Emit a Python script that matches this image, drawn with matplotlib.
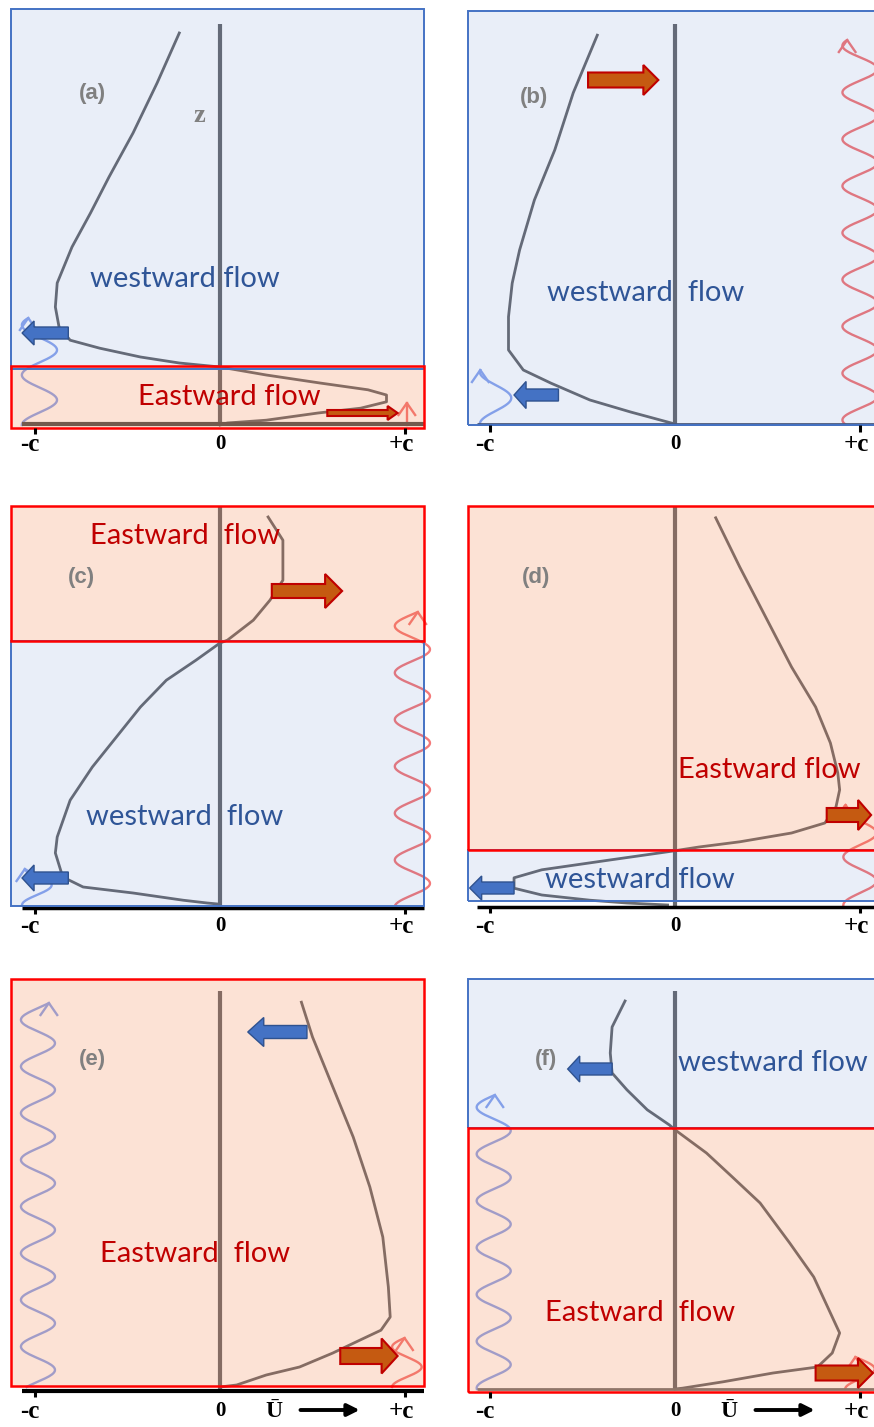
import numpy as np
import matplotlib
matplotlib.use("Agg")
import matplotlib.pyplot as plt
from matplotlib.patches import FancyArrow, Rectangle

# ---------------- data (u in units of c, z = height units) ----------------
a_u = [-0.22, -0.34, -0.47, -0.60, -0.70, -0.80, -0.88, -0.89, -0.87, -0.81, -0.65, -0.43,
       -0.22, 0.0, 0.25, 0.54, 0.80, 0.90, 0.90, 0.76, 0.53, 0.25, 0.04, 0.0]
a_z = [98, 85.5, 73, 62, 53, 44.5, 35.5, 29.5, 24.5, 21.2, 19.2, 17,
       15.5, 14.5, 12.5, 10.5, 8.8, 7.5, 5.8, 4.2, 3, 1.2, 0.5, 0]

b_u = [-0.42, -0.55, -0.65, -0.76, -0.84, -0.88, -0.90, -0.90, -0.82, -0.67, -0.46, -0.24, -0.04, 0.0]
b_z = [97.2, 82.8, 68.5, 56, 43.5, 35.2, 26.8, 18.5, 13.5, 10.2, 6, 3, 0.5, 0]

c_u = [0.26, 0.34, 0.34, 0.27, 0.18, 0.04, 0.0, -0.13, -0.29, -0.43, -0.56, -0.69, -0.81,
       -0.88, -0.89, -0.85, -0.74, -0.47, -0.20, -0.07, 0.0]
c_z = [97, 91.2, 81.2, 76.2, 71.2, 66.2, 65.5, 61.2, 56.2, 49.5, 42, 34.5, 26.2,
       17, 13, 7, 4.5, 3, 1.2, 0.5, 0.2]

d_u = [0.22, 0.35, 0.49, 0.63, 0.76, 0.84, 0.88, 0.89, 0.87, 0.81, 0.63, 0.35, 0.13, -0.01,
       -0.36, -0.72, -0.87, -0.87, -0.72, -0.46, -0.26, -0.04]
d_z = [96.8, 84.5, 72, 59.5, 49.5, 40.5, 33, 28.8, 24.5, 20.5, 18, 15.8, 14.5, 13.5,
       11.2, 8.8, 6.8, 4.2, 2.5, 1.2, 0.5, 0]

e_u = [0.44, 0.50, 0.61, 0.72, 0.81, 0.88, 0.91, 0.92, 0.87, 0.76, 0.61, 0.43, 0.25, 0.09, 0.0]
e_z = [96.2, 87.5, 75, 62.5, 50, 37.5, 25, 17.5, 14.2, 11.8, 8.5, 5, 3, 0.5, 0]

f_u = [-0.27, -0.34, -0.35, -0.34, -0.26, -0.15, -0.03, 0.0, 0.17, 0.31, 0.46, 0.62, 0.75,
       0.85, 0.89, 0.85, 0.77, 0.53, 0.26, 0.04, 0.0]
f_z = [97, 90.5, 84, 79, 74.8, 69.8, 66, 64.8, 59, 53, 46.5, 36.5, 28,
       18, 14, 9, 5.5, 4, 1.8, 0.2, 0]

# flow regions: (z_bottom, z_top, kind)  W = westward, E = eastward
a_regions = [(14, 104, 'W'), (-0.75, 14.75, 'E')]
b_regions = [(-0.25, 103.25, 'W')]
c_regions = [(-0.25, 66, 'W'), (66, 99.75, 'E')]
d_regions = [(1.0, 13.75, 'W'), (13.75, 99.75, 'E')]
e_regions = [(0.25, 102, 'E')]
f_regions = [(65.25, 102.5, 'W'), (-0.75, 65.25, 'E')]

# wave-drag arrows: (u_start, u_end, z, kind)
a_arrows = [(-0.82, -1.07, 23, 'W'), (0.58, 0.96, 3, 'E')]
b_arrows = [(-0.47, -0.09, 86, 'E'), (-0.63, -0.87, 7.25, 'W')]
c_arrows = [(0.28, 0.66, 78.5, 'E'), (-0.82, -1.07, 6.75, 'W')]
d_arrows = [(0.82, 1.06, 22.5, 'E'), (-0.87, -1.11, 4.25, 'W')]
e_arrows = [(0.47, 0.15, 88.75, 'W'), (0.65, 0.96, 7.75, 'E')]
f_arrows = [(-0.34, -0.58, 80, 'W'), (0.76, 1.07, 4, 'E')]

# propagating waves: (phase speed u, amplitude, wavelength, z of left crest, z_end, kind)
a_waves = [(-0.976, 0.095, 12.5, 0, 26.75, 'W'), (1.01, 0.0, 10, 0, 5.5, 'E')]
b_waves = [(-0.97, 0.085, 13, 0, 13.5, 'W'), (1.0, 0.095, 11.7, 1, 96, 'E')]
c_waves = [(-0.99, 0.08, 10, 0, 9, 'W'), (1.04, 0.095, 11.7, 11.25, 73.25, 'E')]
d_waves = [(1.0, 0.09, 12, 0, 25, 'E')]
e_waves = [(-0.984, 0.092, 11.67, 10.1, 96, 'W'), (1.01, 0.08, 10, 0, 12.25, 'E')]
f_waves = [(-0.98, 0.092, 11.7, 0.25, 73.5, 'W'), (1.0, 0.08, 10, 0, 8, 'E')]

# labels: (text, u, z, kind)
a_texts = [("westward flow", -0.19, 36.5, 'W'), ("Eastward flow", 0.05, 7, 'E')]
b_texts = [("westward  flow", -0.16, 32.75, 'W')]
c_texts = [("Eastward  flow", -0.19, 92.25, 'E'), ("westward  flow", -0.19, 22, 'W')]
d_texts = [("Eastward flow", 0.51, 33.75, 'E'), ("westward flow", -0.19, 6.25, 'W')]
e_texts = [("Eastward  flow", -0.135, 33.25, 'E')]
f_texts = [("westward flow", 0.53, 81.5, 'W'), ("Eastward  flow", -0.19, 19, 'E')]

panel_letters = ["(a)", "(b)", "(c)", "(d)", "(e)", "(f)"]
letter_pos = [(-0.69, 82.75), (-0.76, 81.75), (-0.75, 82), (-0.75, 82), (-0.69, 81.75), (-0.70, 82.25)]
tick_vals = [-1, 0, 1]
tick_labels = ["-c", "0", "+c"]

# ---------------- layout (pixels) ----------------
W, H = 874, 1427
C = 185.0     # px per c
PZ = 4.0      # px per z unit
layout = {
    'a': dict(L=11, R=424, T=9, g=425, ztop=100.25, line=(0.25, '#555555', 3.0), tz=-4.5, ticktop=-0.75),
    'b': dict(L=468, R=890, T=11, g=424, ztop=100.0, line=(0.0, '#4d5670', 2.0), tz=-4.75, ticktop=-0.3),
    'c': dict(L=11, R=424, T=506, g=905, ztop=99.75, line=(-0.75, 'black', 2.5), tz=-5.0, ticktop=-0.75),
    'd': dict(L=468, R=890, T=506, g=905, ztop=99.75, line=(-0.5, 'black', 2.5), tz=-5.0, ticktop=-0.5),
    'e': dict(L=11, R=424, T=979, g=1387, ztop=99.0, line=(-1.0, 'black', 3.0), tz=-5.75, ticktop=-1.0),
    'f': dict(L=468, R=890, T=979, g=1389, ztop=99.5, line=(0.0, '#777777', 2.0), tz=-5.25, ticktop=-0.75),
}
x0s = {'a': 220, 'b': 675, 'c': 220, 'd': 675, 'e': 220, 'f': 675}

BLUE_FILL = (0.184, 0.373, 0.753, 0.10)
RED_FILL = (0.94, 0.44, 0.19, 0.20)
BLUE_EDGE = '#4472c4'
RED_EDGE = '#ff0000'
W_TEXT = '#2f5597'
E_TEXT = '#c00000'
CURVE = '#6b6c70'
WAVE_COL = {'W': '#8ea8ee', 'E': '#f47a7a'}
ARROW_STYLE = {'W': dict(fc='#4472c4', ec='#2f528f', lw=1.0),
               'E': dict(fc='#c55a11', ec='#c00000', lw=1.5)}
# arrow sizes in px: body, head width, head length
ARROW_SIZE = {('a', 0): (12, 24, 12), ('a', 1): (6, 14, 10),
              ('b', 0): (15, 30, 15), ('b', 1): (12, 27, 12),
              ('c', 0): (14, 34, 17), ('c', 1): (12, 26, 12),
              ('d', 0): (14, 30, 13), ('d', 1): (12, 24, 12),
              ('e', 0): (13, 29, 16), ('e', 1): (16, 35, 16),
              ('f', 0): (12, 26, 12), ('f', 1): (15, 30, 15)}

FLOW_FONT = ['Lato', 'DejaVu Sans']
SERIF = ['Liberation Serif', 'DejaVu Serif']

fig = plt.figure(figsize=(W / 100, H / 100), dpi=100)

data = {
    'a': (a_u, a_z, a_regions, a_arrows, a_waves, a_texts),
    'b': (b_u, b_z, b_regions, b_arrows, b_waves, b_texts),
    'c': (c_u, c_z, c_regions, c_arrows, c_waves, c_texts),
    'd': (d_u, d_z, d_regions, d_arrows, d_waves, d_texts),
    'e': (e_u, e_z, e_regions, e_arrows, e_waves, e_texts),
    'f': (f_u, f_z, f_regions, f_arrows, f_waves, f_texts),
}
tick_shift = {-1: -0.03, 0: 0.0, 1: -0.02}

for i, key in enumerate(['a', 'b', 'c', 'd', 'e', 'f']):
    lay = layout[key]
    x0 = x0s[key]
    L, R, T, g = lay['L'], lay['R'], lay['T'], lay['g']
    ax = fig.add_axes([L / W, 1 - g / H, (R - L) / W, (g - T) / H])
    ax.set_xlim((L - x0) / C, (R - x0) / C)
    ax.set_ylim(0, (g - T) / PZ)
    ax.axis('off')
    umin, umax = (L - x0) / C, (R - x0) / C

    u, z, regions, arrows, waves, texts = data[key]

    # zero line and ground line (under the tinted regions)
    ax.plot([0, 0], [lay['line'][0], lay['ztop']], color=CURVE, lw=3.0, zorder=2,
            clip_on=False, solid_capstyle='butt')
    zl, lc, lw = lay['line']
    ax.plot([-1.07, min(1.10, umax)], [zl, zl], color=lc, lw=lw, zorder=2.2,
            clip_on=False, solid_capstyle='butt')

    # wind profile
    ax.plot(u, z, color=CURVE, lw=2.0, zorder=2, clip_on=False)

    # waves
    for (cu, amp, lam, zlft, zend, kind) in waves:
        zz = np.linspace(0, zend, 400)
        uu = cu - amp * np.cos(2 * np.pi * (zz - zlft) / lam)
        ax.plot(uu, zz, color=WAVE_COL[kind], lw=1.7, zorder=2, clip_on=False)
        ue = uu[-1]
        ax.plot([ue - 0.045, ue, ue + 0.045], [zend - 3.0, zend, zend - 3.0],
                color=WAVE_COL[kind], lw=1.7, zorder=2, clip_on=False)

    # tinted flow regions (blue first, then red on top)
    for kind in ['W', 'E']:
        for (zb, zt, k) in regions:
            if k != kind:
                continue
            fc = BLUE_FILL if k == 'W' else RED_FILL
            ax.add_patch(Rectangle((umin, zb), umax - umin, zt - zb, facecolor=fc,
                                   edgecolor='none', zorder=3, clip_on=False))
    for kind in ['W', 'E']:
        for (zb, zt, k) in regions:
            if k != kind:
                continue
            ec = BLUE_EDGE if k == 'W' else RED_EDGE
            ax.add_patch(Rectangle((umin, zb), umax - umin, zt - zb, facecolor='none',
                                   edgecolor=ec, lw=1.4 if k == 'W' else 1.8,
                                   zorder=3.5, clip_on=False))

    # arrows
    for j, (us, ue, za, kind) in enumerate(arrows):
        body, head, hl = ARROW_SIZE[(key, j)]
        st = ARROW_STYLE[kind]
        ax.add_patch(FancyArrow(us, za, ue - us, 0, width=body / PZ, head_width=head / PZ,
                                head_length=hl / C, length_includes_head=True,
                                facecolor=st['fc'], edgecolor=st['ec'], lw=st['lw'],
                                zorder=5, clip_on=False))

    # flow labels
    for (txt, tu, tz, kind) in texts:
        ax.text(tu, tz, txt, color=W_TEXT if kind == 'W' else E_TEXT, fontsize=21,
                family=FLOW_FONT, ha='center', va='center', zorder=6, clip_on=False)

    # panel letter
    lu, lz = letter_pos[i]
    ax.text(lu, lz, panel_letters[i], color='#808080', fontsize=16, fontweight='bold',
            family=['Liberation Sans', 'DejaVu Sans'], ha='center', va='center', zorder=6)

    # ticks and tick labels
    for tv, tl in zip(tick_vals, tick_labels):
        if tv != 0:
            ax.plot([tv, tv], [lay['ticktop'], lay['ticktop'] - 1.6], color='black', lw=2.2,
                    zorder=4, clip_on=False, solid_capstyle='butt')
        ax.text(tv + tick_shift[tv], lay['tz'] - 0.3, tl,
                fontsize=18 if tv != 0 else 15, fontweight='bold', family=SERIF,
                ha='center', va='center', color='black', zorder=6, clip_on=False)

    if key == 'a':
        ax.text(-0.11, 77.25, "z", color='#808080', fontsize=19, fontweight='bold',
                family=SERIF, ha='center', va='center', zorder=6)
    if key in ('e', 'f'):
        ax.text(0.29, lay['tz'] - 0.3, "\u016a", fontsize=17, fontweight='bold',
                family=SERIF, ha='center', va='center',
                color='black', zorder=6, clip_on=False)
        ax.annotate("", xy=(0.77, lay['tz']), xytext=(0.42, lay['tz']),
                    arrowprops=dict(arrowstyle='-|>', lw=2.8, color='black', mutation_scale=18),
                    annotation_clip=False, zorder=6)

fig.savefig("out.png", dpi=100)
